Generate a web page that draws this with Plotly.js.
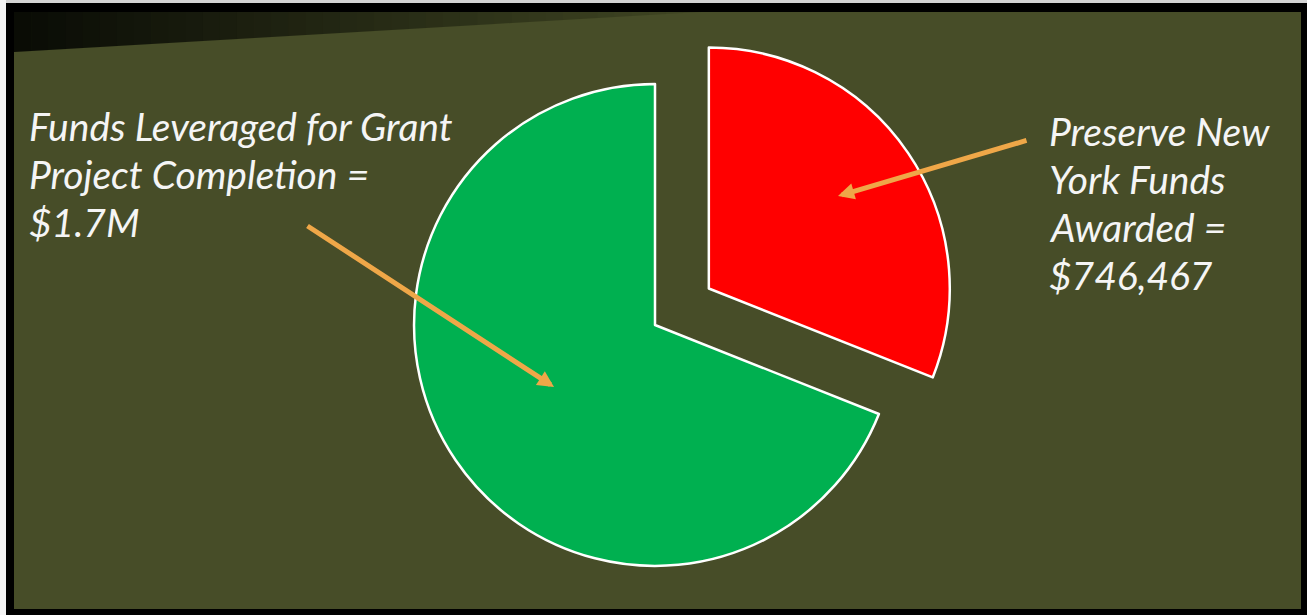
<!DOCTYPE html>
<html>
<head>
<meta charset="utf-8">
<script src="https://cdn.plot.ly/plotly-3.0.1.min.js"></script>
<style>
  html, body { margin: 0; padding: 0; overflow: hidden; background: #000; }
  #chart { width: 1307px; height: 640px; }
</style>
</head>
<body>
<div id="chart"></div>
<script>
// ---- data ----
const sliceLabels = ["Preserve New York Funds Awarded", "Funds Leveraged for Grant Project Completion"];
const sliceValues = [746467, 1660000];
const sliceColors = ["#FF0000", "#00B050"];
const slicePull = [0.27, 0];

const leftLabelLines = ["Funds Leveraged for Grant", "Project Completion =", "$1.7M"];
const rightLabelLines = ["Preserve New", "York Funds", "Awarded =", "$746,467"];

// ---- geometry helpers (pixel -> paper) ----
const W = 1307, H = 640;
const M = { l: 349, r: 346, t: 19, b: 9 };
const PW = W - M.l - M.r, PH = H - M.t - M.b;
const px = x => (x - M.l) / PW;
const py = y => (H - M.b - y) / PH;

const shapes = [];
// frame
shapes.push({ type: 'rect', xref: 'paper', yref: 'paper', layer: 'below',
  x0: px(0), x1: px(W), y0: py(0), y1: py(3), fillcolor: '#d4d4d4', line: { width: 0 } });
shapes.push({ type: 'rect', xref: 'paper', yref: 'paper', layer: 'below',
  x0: px(0), x1: px(6), y0: py(0), y1: py(H), fillcolor: '#f4f4f4', line: { width: 0 } });
// olive slide
shapes.push({ type: 'rect', xref: 'paper', yref: 'paper', layer: 'below',
  x0: px(14), x1: px(1301), y0: py(12), y1: py(609), fillcolor: '#474D28', line: { width: 0 } });
// dark gradient wedge at top-left
const wx0 = 14, wx1 = 700, wTop = 12, wBot = 52, N = 40;
const c0 = [9, 11, 5], c1 = [64, 70, 35];
for (let i = 0; i < N; i++) {
  const xa = wx0 + (wx1 - wx0) * i / N, xb = wx0 + (wx1 - wx0) * (i + 1) / N + 0.6;
  const ya = wBot - (wBot - wTop) * (xa - wx0) / (wx1 - wx0);
  const yb = wBot - (wBot - wTop) * Math.min(1, (xb - wx0) / (wx1 - wx0));
  const t = (i + 0.5) / N;
  const c = c0.map((v, k) => Math.round(v + (c1[k] - v) * t));
  shapes.push({ type: 'path', xref: 'paper', yref: 'paper', layer: 'below',
    path: `M ${px(xa)} ${py(wTop)} L ${px(xb)} ${py(wTop)} L ${px(xb)} ${py(yb)} L ${px(xa)} ${py(ya)} Z`,
    fillcolor: `rgb(${c[0]},${c[1]},${c[2]})`, line: { width: 0 } });
}

const labelFont = { family: 'Lato, "Open Sans", sans-serif', size: 39, color: '#F5F5F5', style: 'italic' };
const arrowColor = '#EFA748';

const annotations = [];
const leftCenters = [126, 174, 222];
leftLabelLines.forEach((s, i) => annotations.push({
  xref: 'paper', yref: 'paper', x: px(27), y: py(leftCenters[i]), xanchor: 'left', yanchor: 'middle',
  align: 'left', showarrow: false, text: s, font: labelFont }));
const rightCenters = [131, 179, 227, 275];
rightLabelLines.forEach((s, i) => annotations.push({
  xref: 'paper', yref: 'paper', x: px(1047), y: py(rightCenters[i]), xanchor: 'left', yanchor: 'middle',
  align: 'left', showarrow: false, text: s, font: labelFont }));

annotations.push(
  { xref: 'paper', yref: 'paper', x: px(554), y: py(387), ax: -248, ay: -162, text: ' ',
    font: { size: 1 }, showarrow: true, arrowhead: 2, arrowsize: 0.65, arrowwidth: 5, arrowcolor: arrowColor },
  { xref: 'paper', yref: 'paper', x: px(838), y: py(196), ax: 190, ay: -56, text: ' ',
    font: { size: 1 }, showarrow: true, arrowhead: 2, arrowsize: 0.65, arrowwidth: 5, arrowcolor: arrowColor }
);

const trace = {
  type: 'pie',
  labels: sliceLabels,
  values: sliceValues,
  marker: { colors: sliceColors, line: { color: '#FFFFFF', width: 2.5 } },
  pull: slicePull,
  sort: false,
  direction: 'clockwise',
  rotation: 0,
  textinfo: 'none',
  hoverinfo: 'label+value',
  showlegend: false
};

const layout = {
  width: W, height: H,
  margin: M,
  paper_bgcolor: '#000000',
  plot_bgcolor: 'rgba(0,0,0,0)',
  showlegend: false,
  shapes: shapes,
  annotations: annotations
};

Plotly.newPlot('chart', [trace], layout, { displayModeBar: false, staticPlot: true });
</script>
</body>
</html>
